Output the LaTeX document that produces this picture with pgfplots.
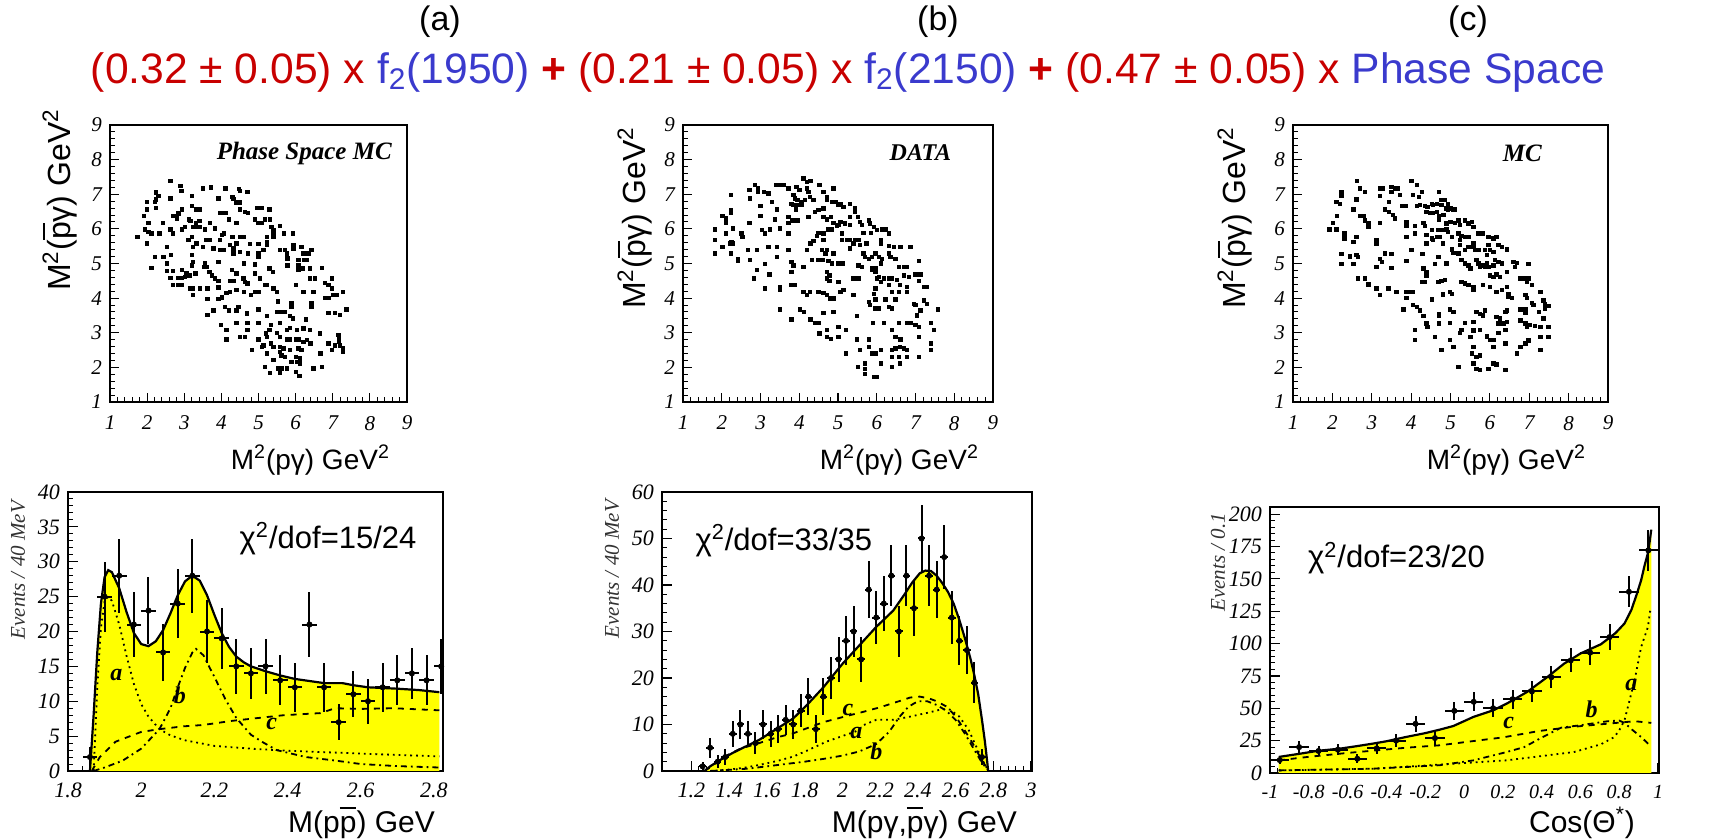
\documentclass[border=0pt]{standalone}
\usepackage{fontspec}
\setmainfont{Liberation Sans}
\newfontfamily\tnr{Liberation Serif}
\usepackage{pgfplots}
\pgfplotsset{compat=1.18}
\usepackage{pgfplotstable}
\definecolor{fred}{RGB}{200,0,0}
\definecolor{fblue}{RGB}{58,58,205}
\definecolor{fyel}{RGB}{255,255,0}
\newcommand\pbar{\leavevmode\rlap{\raisebox{0.80em}{\rule{0.53em}{0.07em}}}p}

\tikzset{
  lab/.style={font=\tnr\bfseries\itshape\fontsize{12}{14}\selectfont},
  chi/.style={anchor=west, font=\fontsize{15.5}{18}\selectfont},
}
\pgfplotsset{
  rootstyle/.style={
    scale only axis,
    axis line style={line width=0.9pt},
    tick align=inside,
    xtick pos=left, ytick pos=left,
    major tick length=5pt, minor tick length=2.5pt,
    every tick/.style={black, line width=0.6pt},
    every minor tick/.style={black, line width=0.5pt},
    ticklabel style={font=\tnr\itshape\fontsize{11}{12}\selectfont},
    xticklabel style={yshift=-2.5pt},
    yticklabel style={xshift=-0.5pt},
    /pgf/number format/assume math mode=true,
    minor tick num=4,
  },
  scat/.style={rootstyle, xmin=1, xmax=9, ymin=1, ymax=9,
    xtick={1,2,3,4,5,6,7,8,9}, ytick={1,2,3,4,5,6,7,8,9},
    major tick length=4.5pt, minor tick length=2.3pt,
    ticklabel style={font=\tnr\itshape\fontsize{10.5}{12}\selectfont},
    xticklabel style={yshift=-1pt},
    height=138.5pt},
  pts/.style={only marks, mark=square*, mark size=0.85pt, black},
  dat/.style={only marks, mark=*, mark size=1.3pt, black,
    error bars/.cd, x dir=both, x explicit, y dir=both, y explicit,
    error bar style={line width=1pt}, error mark=none},
  fitline/.style={black, line width=1.1pt},
  comp/.style={black, line width=0.9pt},
}

\begin{document}
\begin{tikzpicture}
\useasboundingbox (0,0) rectangle (862pt,420pt);

% ---------------- top (a) ----------------
\begin{axis}[scat, at={(55pt,219pt)}, anchor=south west, width=148.5pt]
\addplot[pts] table {
2.63 7.38
2.90 7.25
2.92 7.10
2.23 7.05
1.99 6.78
2.21 6.78
2.24 6.85
2.63 6.88
3.21 6.96
3.51 7.17
3.71 7.20
4.11 7.17
4.48 7.15
4.50 7.10
4.70 7.07
4.30 6.93
4.32 6.86
3.92 6.88
4.41 6.76
4.50 6.76
2.30 6.95
1.92 6.37
1.99 6.56
2.24 6.60
2.70 6.37
2.80 6.37
2.93 6.56
3.21 6.66
3.33 6.56
3.42 6.56
3.96 6.47
4.05 6.47
4.12 6.47
4.50 6.56
4.63 6.49
4.72 6.47
4.95 6.61
5.08 6.61
5.29 6.56
2.84 6.45
2.80 6.30
2.42 6.18
2.03 6.18
3.12 6.27
3.17 6.23
3.32 6.18
3.41 6.23
3.69 6.18
4.20 6.27
4.41 6.18
4.90 6.27
5.17 6.27
5.30 6.27
5.00 6.18
5.09 6.18
5.58 6.08
5.35 6.06
5.40 5.97
1.94 5.98
2.03 5.92
2.12 5.87
2.33 5.87
2.70 5.87
2.63 5.98
2.93 5.98
3.02 6.06
3.23 6.06
3.33 6.06
3.42 6.06
3.56 5.98
3.83 6.01
4.01 5.82
4.07 5.87
4.30 5.77
4.50 5.77
4.61 5.77
3.20 5.77
3.11 5.68
5.22 5.77
5.22 5.63
5.22 5.53
5.40 5.87
5.40 5.77
5.69 5.87
5.92 5.87
1.99 5.58
3.33 5.58
3.60 5.68
3.69 5.68
3.96 5.68
4.23 5.53
4.41 5.58
4.77 5.56
5.00 5.56
2.53 5.48
3.23 5.48
3.51 5.48
3.78 5.44
3.96 5.39
4.05 5.39
4.32 5.44
4.32 5.29
4.50 5.34
4.72 5.29
5.00 5.29
5.00 5.19
5.13 5.39
5.58 5.39
5.71 5.39
5.94 5.53
5.94 5.44
6.16 5.48
6.21 5.29
6.34 5.29
6.43 5.39
5.76 5.29
5.78 5.15
5.78 4.95
2.21 5.19
2.44 5.19
2.64 5.24
3.20 5.24
3.23 5.05
3.20 4.95
3.56 5.00
3.60 4.90
3.92 5.05
4.61 5.00
4.90 4.97
5.29 4.86
6.07 5.10
6.23 5.10
6.30 5.10
6.07 4.95
6.07 4.81
6.19 4.86
6.39 4.86
6.70 4.88
2.12 4.88
2.53 4.78
2.70 4.78
2.93 4.81
3.06 4.71
2.63 4.59
2.84 4.59
2.93 4.59
3.02 4.62
3.14 4.66
3.30 4.71
3.53 4.90
3.68 4.76
3.74 4.66
3.83 4.57
3.92 4.49
4.28 4.81
4.41 4.71
4.59 4.57
4.63 4.47
4.70 4.42
4.90 4.71
5.04 4.57
5.38 4.76
6.39 4.57
6.52 4.57
6.79 4.44
6.88 4.38
6.97 4.57
6.00 4.38
2.70 4.39
2.84 4.39
2.93 4.39
3.15 4.28
3.24 4.28
3.42 4.28
3.62 4.28
3.92 4.31
4.23 4.49
4.32 4.49
5.17 4.38
5.22 4.38
5.40 4.28
5.49 4.18
6.21 4.18
6.48 4.18
6.97 4.28
3.23 4.09
3.62 3.97
3.92 3.97
4.01 4.02
4.14 4.15
4.23 4.18
4.41 4.23
4.61 4.18
4.79 4.09
4.90 4.18
5.00 4.18
5.53 3.90
5.89 3.85
5.89 3.75
6.43 3.85
6.43 3.75
6.79 4.00
6.88 4.00
7.01 4.09
7.10 4.09
7.28 4.18
7.37 3.68
6.88 3.58
7.06 3.58
7.19 3.51
3.62 3.51
3.78 3.65
4.10 3.75
4.21 3.65
4.41 3.65
4.46 3.75
4.68 3.56
5.00 3.68
5.22 3.48
5.49 3.61
5.62 3.61
5.71 3.61
5.85 3.48
5.92 3.41
6.28 3.38
3.98 3.22
4.14 3.09
4.41 3.29
4.70 3.29
4.70 3.09
5.00 3.29
5.33 3.22
5.29 3.09
5.58 3.29
5.76 3.09
5.85 3.14
6.03 3.08
6.21 3.13
6.39 3.09
6.66 2.98
7.15 2.93
7.17 2.83
7.17 2.74
4.13 2.81
4.50 2.88
4.63 2.88
5.20 2.98
5.22 2.88
5.00 2.81
5.49 3.00
5.58 2.88
5.76 2.81
5.85 2.81
6.00 2.81
6.08 2.81
6.21 2.74
6.30 2.79
6.40 2.69
6.88 2.69
6.97 2.50
7.06 2.64
7.19 2.64
7.28 2.55
7.28 2.45
4.82 2.50
5.09 2.59
5.13 2.64
5.33 2.69
5.40 2.59
5.58 2.59
5.58 2.45
5.62 2.35
5.67 2.55
5.85 2.50
6.07 2.55
6.16 2.50
5.22 2.40
5.40 2.21
5.71 2.30
6.00 2.30
6.12 2.26
5.89 2.16
6.03 2.16
6.12 2.11
6.67 2.40
5.17 2.02
5.53 1.97
5.62 1.97
5.76 1.97
5.31 1.84
5.58 1.84
6.00 1.87
6.10 1.75
6.48 1.97
6.70 2.02
1.74 5.77
2.53 5.00
};
\node[anchor=east, font=\tnr\bfseries\itshape\fontsize{12.5}{14}\selectfont] at (axis cs:8.78,8.19) {Phase Space MC};
\end{axis}

% ---------------- top (b) ----------------
\begin{axis}[scat, at={(341.5pt,219pt)}, anchor=south west, width=155pt]
\addplot[pts] table {
4.11 7.46
4.19 7.36
4.29 7.39
4.52 7.27
4.88 7.17
3.40 7.27
3.50 7.27
3.60 7.27
3.72 7.17
2.86 7.27
2.94 7.17
2.94 7.07
2.71 7.12
2.73 6.88
3.09 7.07
3.20 7.02
3.93 7.22
4.00 7.12
4.19 7.17
4.24 7.07
3.85 6.98
3.89 6.88
3.95 6.83
4.06 6.78
4.15 6.83
4.28 6.93
4.36 6.83
4.62 7.07
4.71 6.93
4.71 6.83
4.84 6.78
4.93 6.78
3.80 6.73
3.85 6.69
3.98 6.69
4.06 6.69
5.06 6.73
5.30 6.73
2.23 6.98
3.29 6.78
4.41 6.49
4.49 6.54
4.62 6.59
4.62 6.35
4.24 6.35
3.92 6.56
3.72 6.35
3.42 6.56
3.00 6.66
5.44 6.59
5.44 6.49
5.14 6.64
5.01 6.69
2.02 6.37
2.10 6.30
2.10 6.18
2.23 6.54
2.23 6.47
3.00 6.37
2.71 6.18
3.37 6.27
3.72 6.18
3.82 6.25
3.95 6.25
4.71 6.27
4.81 6.35
4.88 6.18
5.01 6.11
5.18 6.16
5.06 6.20
4.97 6.08
5.30 6.35
5.31 6.11
5.51 6.35
5.56 6.20
5.62 6.11
5.79 6.25
5.83 6.16
5.92 6.06
6.00 5.97
6.13 5.98
6.22 5.98
6.31 5.87
5.66 5.89
5.85 5.89
1.82 5.98
2.29 6.01
2.51 5.87
2.53 5.77
2.10 5.87
3.03 5.97
3.11 5.87
3.24 5.98
3.50 6.01
3.72 5.87
4.49 5.89
4.62 5.87
4.75 5.98
4.84 5.98
5.10 5.87
1.82 5.68
2.02 5.48
2.21 5.58
2.25 5.63
2.29 5.58
4.29 5.58
4.36 5.66
4.45 5.79
4.62 5.68
5.10 5.68
5.23 5.68
5.31 5.68
5.44 5.68
5.53 5.68
5.40 5.58
5.57 5.53
5.73 5.58
6.10 5.68
6.10 5.58
6.31 5.50
6.44 5.48
6.61 5.48
6.87 5.48
3.20 5.48
3.42 5.48
2.68 5.39
2.90 5.39
3.72 5.39
4.19 5.39
4.58 5.39
4.67 5.29
4.71 5.39
4.88 5.29
5.31 5.44
5.66 5.29
5.70 5.19
5.79 5.14
5.88 5.19
5.96 5.29
6.05 5.19
6.10 5.00
6.13 5.14
6.31 5.29
6.35 5.19
6.48 5.14
1.82 5.29
2.23 5.29
2.42 5.14
2.42 5.07
2.73 5.10
3.42 5.19
3.80 5.05
3.85 4.95
4.32 5.10
4.49 5.10
4.60 5.10
4.75 5.08
4.84 5.00
5.01 5.00
5.12 5.00
5.53 4.95
5.62 4.90
5.88 4.88
5.96 4.86
5.88 4.81
6.57 4.90
6.70 4.90
6.78 4.90
7.08 5.07
3.11 4.98
2.90 4.81
3.23 4.69
2.83 4.57
3.80 4.76
4.11 4.90
4.71 4.76
4.78 4.66
4.71 4.57
4.78 4.50
5.01 4.47
5.40 4.57
5.53 4.57
5.96 4.76
6.00 4.57
6.05 4.61
6.18 4.57
6.31 4.57
6.39 4.57
6.11 4.47
6.52 4.52
6.59 4.39
7.00 4.69
7.13 4.69
7.08 4.49
6.70 4.66
6.83 4.61
7.21 4.33
7.30 4.33
6.78 4.33
3.11 4.28
3.50 4.33
3.50 4.25
3.80 4.39
3.89 4.39
4.11 4.18
4.19 4.10
4.28 4.18
4.49 4.18
4.62 4.15
4.71 4.09
4.79 3.99
4.88 3.99
5.06 4.18
5.14 4.23
5.40 4.09
5.96 4.28
5.92 4.13
6.31 4.39
6.39 4.18
6.57 4.18
6.78 4.18
5.79 3.89
5.83 3.80
5.96 3.96
6.22 3.96
6.48 3.96
5.96 3.70
6.05 3.70
6.31 3.75
6.39 3.70
6.96 3.84
7.00 3.80
7.21 3.94
7.30 3.84
7.13 3.65
7.04 3.50
7.58 3.68
3.50 3.68
4.02 3.68
4.12 3.60
4.62 3.57
4.88 3.60
5.49 3.48
3.80 3.38
4.29 3.38
4.41 3.29
4.49 3.29
5.90 3.29
6.18 3.29
6.57 3.29
6.78 3.29
6.87 3.29
7.00 3.22
7.08 3.17
7.39 3.29
7.47 3.09
4.71 3.09
4.52 2.98
5.01 3.17
5.21 3.09
4.71 2.88
4.81 2.83
5.01 2.88
6.39 3.09
6.48 2.88
6.61 2.81
7.08 2.88
5.49 2.81
5.79 2.81
5.79 2.59
5.88 2.40
5.96 2.40
6.10 2.50
5.57 2.50
5.21 2.40
6.39 2.50
6.48 2.55
6.59 2.59
6.70 2.55
6.78 2.50
6.39 2.30
6.57 2.30
6.78 2.30
7.08 2.30
7.39 2.69
7.39 2.50
5.51 2.01
5.70 2.11
5.70 1.96
5.70 1.82
5.92 1.72
6.00 1.72
6.11 2.11
6.39 2.01
6.59 2.11
};
\node[anchor=east, font=\tnr\bfseries\itshape\fontsize{12}{14}\selectfont] at (axis cs:8.1,8.19) {DATA};
\end{axis}

% ---------------- top (c) ----------------
\begin{axis}[scat, at={(646.5pt,219pt)}, anchor=south west, width=157.5pt]
\addplot[pts] table {
2.63 7.38
2.70 7.17
2.83 7.07
2.23 7.07
2.23 6.95
2.10 6.78
2.19 6.73
2.61 6.85
3.20 7.17
3.29 7.17
3.20 6.95
3.50 7.22
3.59 7.17
3.67 7.17
3.50 7.07
3.71 6.98
4.01 7.38
4.14 7.27
4.27 7.07
4.05 6.98
4.20 6.93
4.71 7.07
3.44 6.78
3.78 6.66
3.86 6.66
2.53 6.56
3.33 6.56
3.44 6.49
4.14 6.66
4.22 6.69
4.35 6.66
4.41 6.64
4.52 6.73
4.56 6.69
4.65 6.73
4.77 6.83
4.86 6.83
4.94 6.73
4.77 6.69
4.88 6.59
5.00 6.59
5.11 6.56
4.39 6.49
4.47 6.47
4.56 6.47
4.65 6.49
4.71 6.37
4.71 6.27
4.82 6.40
4.94 6.56
5.07 6.54
2.70 6.37
2.80 6.37
2.83 6.25
2.91 6.16
2.91 6.06
2.12 6.37
2.02 6.18
2.10 5.98
1.92 5.98
2.31 5.87
2.31 5.73
3.20 6.18
3.54 6.40
3.59 6.30
3.88 6.20
3.88 6.08
4.10 6.08
4.31 6.18
4.35 6.08
4.52 5.97
4.69 5.97
4.80 5.97
4.90 5.98
4.94 5.92
4.90 6.16
5.00 6.20
5.11 6.18
5.20 6.25
5.24 6.11
5.37 6.25
5.45 6.16
5.54 6.20
5.58 6.06
5.20 5.87
5.28 5.79
5.37 5.77
5.45 5.77
5.71 5.87
5.83 5.87
5.96 5.77
6.09 5.73
6.17 5.77
3.88 5.77
4.10 5.87
4.39 5.82
4.52 5.73
4.65 5.77
4.73 5.77
5.03 5.77
3.12 5.68
3.12 5.58
4.39 5.58
4.56 5.68
4.80 5.58
5.24 5.68
5.24 5.53
5.58 5.58
5.58 5.48
5.96 5.53
6.00 5.39
6.09 5.34
6.22 5.53
6.30 5.48
6.43 5.41
5.88 5.39
5.92 5.24
2.61 5.77
2.53 5.63
4.01 5.39
5.03 5.41
5.07 5.31
5.20 5.29
5.37 5.39
5.45 5.48
5.62 5.39
5.71 5.39
4.29 5.27
2.23 5.27
2.23 4.98
2.44 5.21
2.53 4.98
2.61 5.24
2.65 5.19
3.33 5.29
3.50 5.27
3.20 5.14
3.25 5.05
3.12 4.90
3.50 4.88
3.88 5.07
4.31 4.86
4.39 4.76
4.39 4.66
4.60 4.98
4.69 5.19
4.90 5.00
5.28 5.10
5.37 5.00
5.45 4.95
5.50 4.86
5.66 5.10
5.71 5.00
5.75 4.90
5.83 4.95
5.88 4.90
5.92 5.00
5.96 4.90
6.09 4.95
6.13 5.10
6.22 5.05
6.30 5.00
6.00 4.66
6.09 4.61
6.17 4.68
6.26 4.61
6.43 4.76
6.60 5.05
6.68 5.02
6.64 4.90
6.98 4.98
6.77 4.57
6.90 4.57
6.98 4.57
6.94 4.47
7.06 4.38
7.28 4.18
5.28 4.47
5.37 4.42
5.45 4.38
5.58 4.33
5.58 4.23
5.83 4.38
6.00 4.33
6.17 4.18
6.30 4.23
6.43 4.33
6.47 4.13
6.47 4.03
6.56 4.00
6.90 4.09
6.94 4.00
7.06 3.86
7.11 3.80
7.36 3.94
7.40 3.84
7.40 3.70
7.49 3.77
6.77 3.67
6.90 3.67
6.90 3.57
7.24 3.60
7.36 3.41
2.65 4.57
2.82 4.57
2.91 4.40
3.12 4.28
3.20 4.09
3.42 4.28
3.63 4.18
3.88 4.18
4.01 4.18
4.05 4.18
4.27 4.47
4.35 4.47
4.69 4.47
4.77 4.50
4.86 4.52
4.99 4.18
5.03 4.13
4.80 4.11
4.52 3.96
3.88 4.00
3.80 3.68
4.05 3.80
4.14 3.75
4.22 3.65
4.31 3.48
4.39 3.27
4.41 3.17
4.71 3.55
4.71 3.48
4.71 3.27
4.99 3.68
5.07 3.60
4.99 3.29
5.37 3.29
5.28 3.09
5.24 3.00
5.66 3.60
5.75 3.55
5.83 3.50
5.88 3.65
6.17 3.46
6.26 3.41
6.39 3.60
6.43 3.65
6.22 3.27
6.34 3.27
6.43 3.31
6.77 3.36
6.90 3.27
6.94 3.17
7.02 3.22
7.15 3.19
7.28 3.17
7.49 3.17
5.58 3.31
5.58 3.07
5.75 3.09
5.50 2.88
5.92 2.90
6.00 2.80
6.22 3.00
6.39 3.09
6.09 2.80
6.09 2.59
6.39 2.69
4.10 3.09
4.10 2.80
4.60 2.88
4.99 2.80
5.07 2.59
4.77 2.50
5.58 2.59
6.68 2.40
6.77 2.59
6.90 2.69
6.98 2.78
7.28 2.88
7.49 2.88
7.28 2.51
5.54 2.40
5.66 2.30
5.75 2.35
5.58 2.11
5.66 1.96
5.75 1.93
5.20 2.01
5.96 1.96
6.09 2.11
6.17 2.09
6.39 1.93
};
\node[anchor=east, font=\tnr\bfseries\itshape\fontsize{12.5}{14}\selectfont] at (axis cs:7.5,8.19) {MC};
\end{axis}

% ---------------- bottom (a) ----------------
\begin{axis}[rootstyle, at={(34pt,34.5pt)}, anchor=south west, width=187.5pt, height=139.5pt,
  xmin=1.8, xmax=2.825, ymin=0, ymax=40,
  xtick={1.8,2,2.2,2.4,2.6,2.8}, ytick={0,5,10,15,20,25,30,35,40}]
\addplot[fill=fyel, draw=none] coordinates {
(1.86,0) (1.87,8) (1.88,17) (1.89,24) (1.90,27.8) (1.91,28.8) (1.92,28.5) (1.94,26.2) (1.96,22.8) (1.98,19.8) (2.00,18.2) (2.02,17.9) (2.04,18.6) (2.06,20.2) (2.08,22.6) (2.10,25.2) (2.12,27.2) (2.14,28.0) (2.16,27.3) (2.18,25.2) (2.20,22.4) (2.22,19.8) (2.24,17.8) (2.26,16.4) (2.28,15.6) (2.30,15.0) (2.34,14.3) (2.38,13.7) (2.42,13.2) (2.46,12.9) (2.50,12.6) (2.55,12.6) (2.58,12.3) (2.62,12.0) (2.66,11.9) (2.70,11.8) (2.76,11.6) (2.815,11.3)
} \closedcycle;
\addplot[comp, dotted] coordinates {
(1.87,0) (1.88,12) (1.89,20.5) (1.90,24.3) (1.91,25) (1.92,24.4) (1.94,21) (1.96,16.5) (1.98,12.5) (2.00,9.6) (2.02,7.8) (2.05,6) (2.08,5.1) (2.12,4.4) (2.16,4.0) (2.2,3.6) (2.3,3.2) (2.4,2.9) (2.5,2.7) (2.6,2.5) (2.7,2.3) (2.815,2.1)
};
\addplot[comp, dashdotted] coordinates {
(1.87,0) (1.9,0.5) (1.95,1.5) (2.0,3.2) (2.05,6) (2.08,9) (2.1,12) (2.12,14.8) (2.14,17) (2.15,17.5) (2.17,16.6) (2.2,13.5) (2.23,10.3) (2.26,7.6) (2.3,5.2) (2.33,4.2) (2.37,3) (2.45,2) (2.53,1.5) (2.6,1.0) (2.7,0.7) (2.815,0.5)
};
\addplot[comp, dashed] coordinates {
(1.865,0) (1.887,2) (1.93,4.2) (2.0,5.6) (2.05,6.0) (2.115,6.4) (2.17,6.6) (2.25,7.2) (2.32,7.6) (2.39,8.0) (2.49,8.3) (2.53,9.0) (2.6,8.9) (2.69,9.0) (2.815,8.7)
};
\addplot[fitline] coordinates {
(1.86,0) (1.87,8) (1.88,17) (1.89,24) (1.90,27.8) (1.91,28.8) (1.92,28.5) (1.94,26.2) (1.96,22.8) (1.98,19.8) (2.00,18.2) (2.02,17.9) (2.04,18.6) (2.06,20.2) (2.08,22.6) (2.10,25.2) (2.12,27.2) (2.14,28.0) (2.16,27.3) (2.18,25.2) (2.20,22.4) (2.22,19.8) (2.24,17.8) (2.26,16.4) (2.28,15.6) (2.30,15.0) (2.34,14.3) (2.38,13.7) (2.42,13.2) (2.46,12.9) (2.50,12.6) (2.55,12.6) (2.58,12.3) (2.62,12.0) (2.66,11.9) (2.70,11.8) (2.76,11.6) (2.815,11.3)
};
\addplot[dat] table[x=x, y=y, x error=ex, y error=ey] {
x y ex ey
1.86 2 0.02 1.4
1.90 25 0.02 5.0
1.94 28 0.02 5.3
1.98 21 0.02 4.6
2.02 23 0.02 4.8
2.06 17 0.02 4.1
2.10 24 0.02 4.9
2.14 28 0.02 5.3
2.18 20 0.02 4.5
2.22 19 0.02 4.4
2.26 15 0.02 3.9
2.30 14 0.02 3.7
2.34 15 0.02 3.9
2.38 13 0.02 3.6
2.42 12 0.02 3.5
2.46 21 0.02 4.6
2.50 12 0.02 3.5
2.54 7 0.02 2.6
2.58 11 0.02 3.3
2.62 10 0.02 3.2
2.66 12 0.02 3.5
2.70 13 0.02 3.6
2.74 14 0.02 3.7
2.78 13 0.02 3.6
2.82 15 0.02 3.9
};
\node[lab] at (axis cs:1.932,13.8) {a};
\node[lab] at (axis cs:2.106,10.8) {b};
\node[lab] at (axis cs:2.357,6.75) {c};
\node[chi] at (axis cs:2.25,33.3) {χ\textsuperscript{2}/dof=15/24};
\end{axis}

% ---------------- bottom (b) ----------------
\begin{axis}[rootstyle, at={(331pt,34.5pt)}, anchor=south west, width=185pt, height=139.5pt,
  xmin=1.045, xmax=3.005, ymin=0, ymax=60,
  xtick={1.2,1.4,1.6,1.8,2,2.2,2.4,2.6,2.8,3}, ytick={0,10,20,30,40,50,60}]
\addplot[fill=fyel, draw=none] coordinates {
(1.27,0) (1.30,1) (1.35,2.3) (1.42,3.9) (1.50,5.5) (1.56,6.7) (1.65,9) (1.74,11.3) (1.82,14.5) (1.90,18) (2.00,23) (2.09,27) (2.18,31) (2.27,34.5) (2.33,38) (2.37,40.5) (2.41,42.5) (2.44,43.1) (2.47,43) (2.50,42) (2.53,40.4) (2.56,38.5) (2.59,36) (2.62,32.5) (2.65,28.5) (2.68,24) (2.70,20.5) (2.72,16.5) (2.74,11) (2.755,6.5) (2.765,3) (2.773,0)
} \closedcycle;
\addplot[comp, dashed] coordinates {
(1.27,0) (1.30,0.8) (1.38,3.2) (1.46,4.8) (1.56,6) (1.65,7.2) (1.74,8.1) (1.82,9.3) (1.9,10.5) (2.04,12) (2.1,12.6) (2.2,13.7) (2.3,15) (2.36,15.8) (2.41,16) (2.46,15.6) (2.50,15) (2.55,13.9) (2.6,11.8) (2.66,8) (2.70,5.3) (2.73,3) (2.76,1) (2.775,0)
};
\addplot[comp, dotted] coordinates {
(1.30,0) (1.40,0.3) (1.48,0.7) (1.56,1.3) (1.65,2.1) (1.74,3.1) (1.82,4.5) (1.915,6.3) (2.0,7.5) (2.07,8.5) (2.12,10) (2.18,11) (2.27,11) (2.36,11.7) (2.45,12.5) (2.53,13.3) (2.57,13.2) (2.62,11.7) (2.67,8.8) (2.71,5.2) (2.74,2.5) (2.775,0)
};
\addplot[comp, dashdotted] coordinates {
(1.30,0) (1.5,0.5) (1.6,1) (1.7,1.5) (1.8,2) (1.9,2.6) (2.0,3.3) (2.09,4.2) (2.18,5.8) (2.25,8.5) (2.3,11.5) (2.35,13.8) (2.4,15) (2.45,15) (2.5,14.2) (2.55,13) (2.6,11) (2.65,8) (2.7,4.5) (2.74,1.8) (2.775,0)
};
\addplot[fitline] coordinates {
(1.27,0) (1.30,1) (1.35,2.3) (1.42,3.9) (1.50,5.5) (1.56,6.7) (1.65,9) (1.74,11.3) (1.82,14.5) (1.90,18) (2.00,23) (2.09,27) (2.18,31) (2.27,34.5) (2.33,38) (2.37,40.5) (2.41,42.5) (2.44,43.1) (2.47,43) (2.50,42) (2.53,40.4) (2.56,38.5) (2.59,36) (2.62,32.5) (2.65,28.5) (2.68,24) (2.70,20.5) (2.72,16.5) (2.74,11) (2.755,6.5) (2.765,3) (2.773,0)
};
\addplot[dat] table[x=x, y=y, x error=ex, y error=ey] {
x y ex ey
1.26 1 0.02 1.0
1.30 5 0.02 2.2
1.34 2 0.02 1.4
1.38 3 0.02 1.7
1.42 8 0.02 2.8
1.46 10 0.02 3.2
1.50 8 0.02 2.8
1.54 6 0.02 2.4
1.58 10 0.02 3.2
1.62 8 0.02 2.8
1.66 9 0.02 3.0
1.70 11 0.02 3.3
1.74 10 0.02 3.2
1.78 13 0.02 3.6
1.82 16 0.02 4.0
1.86 9 0.02 3.0
1.90 16 0.02 4.0
1.94 20 0.02 4.5
1.98 24 0.02 4.9
2.02 28 0.02 5.3
2.06 30 0.02 5.5
2.10 24 0.02 4.9
2.14 39 0.02 6.2
2.18 33 0.02 5.7
2.22 36 0.02 6.0
2.26 42 0.02 6.5
2.30 30 0.02 5.5
2.34 42 0.02 6.5
2.38 35 0.02 5.9
2.42 50 0.02 7.1
2.46 42 0.02 6.5
2.50 39 0.02 6.2
2.54 46 0.02 6.8
2.58 33 0.02 5.7
2.62 28 0.02 5.3
2.66 26 0.02 5.1
2.70 19 0.02 4.4
2.74 3 0.02 1.7
};
\node[lab] at (axis cs:2.03,13.1) {c};
\node[lab] at (axis cs:2.074,8.1) {a};
\node[lab] at (axis cs:2.18,4.2) {b};
\node[chi] at (axis cs:1.185,49.5) {χ\textsuperscript{2}/dof=33/35};
\end{axis}

% ---------------- bottom (c) ----------------
\begin{axis}[rootstyle, at={(635pt,33.5pt)}, anchor=south west, width=194.5pt, height=133pt,
  xmin=-1, xmax=1.005, ymin=0, ymax=205.5,
  xticklabel style={font=\tnr\itshape\fontsize{10}{12}\selectfont},
  xtick={-1,-0.8,-0.6,-0.4,-0.2,0,0.2,0.4,0.6,0.8,1}, ytick={0,25,50,75,100,125,150,175,200}]
\addplot[fill=fyel, draw=none] coordinates {
(-0.955,12.4) (-0.85,14.8) (-0.75,17.2) (-0.64,18.8) (-0.55,20.8) (-0.47,22.7) (-0.4,24.5) (-0.3,27.8) (-0.2,30.8) (-0.125,33.5) (-0.055,36.3) (0.048,43.3) (0.152,48.5) (0.22,53.6) (0.325,62.6) (0.43,74.2) (0.516,84.5) (0.6,92.3) (0.706,99.5) (0.78,108) (0.827,115.5) (0.862,125.8) (0.89,138) (0.913,149) (0.93,160) (0.948,170) (0.958,180) (0.965,188)
} \closedcycle;
\addplot[comp, dashed] coordinates {
(-0.955,9.8) (-0.8,12.5) (-0.6,15.5) (-0.45,17.5) (-0.3,19.5) (-0.125,21.4) (0.05,24.7) (0.2,27.5) (0.39,32.5) (0.55,35.5) (0.74,38.1) (0.88,40) (0.965,38.7)
};
\addplot[comp, dashdotted] coordinates {
(-0.955,2) (-0.47,3.3) (-0.125,6) (0.05,9.8) (0.118,12.4) (0.22,16.2) (0.31,20) (0.39,26.5) (0.5,35) (0.6,36.9) (0.74,40) (0.8,40.5) (0.827,38.7) (0.87,33) (0.913,27.8) (0.957,21.4)
};
\addplot[comp, dotted] coordinates {
(-0.955,2) (-0.47,3.3) (-0.05,7.2) (0.22,9.8) (0.39,12.9) (0.567,16.2) (0.706,22.2) (0.775,27.8) (0.8,33) (0.827,40.7) (0.853,56) (0.879,71.6) (0.913,97.4) (0.948,112.9) (0.962,128)
};
\addplot[fitline] coordinates {
(-0.955,12.4) (-0.85,14.8) (-0.75,17.2) (-0.64,18.8) (-0.55,20.8) (-0.47,22.7) (-0.4,24.5) (-0.3,27.8) (-0.2,30.8) (-0.125,33.5) (-0.055,36.3) (0.048,43.3) (0.152,48.5) (0.22,53.6) (0.325,62.6) (0.43,74.2) (0.516,84.5) (0.6,92.3) (0.706,99.5) (0.78,108) (0.827,115.5) (0.862,125.8) (0.89,138) (0.913,149) (0.93,160) (0.948,170) (0.958,180) (0.965,188)
};
\addplot[dat] table[x=x, y=y, x error=ex, y error=ey] {
x y ex ey
-0.95 10 0.05 3.2
-0.85 20 0.05 4.5
-0.75 17 0.05 4.1
-0.65 18 0.05 4.2
-0.55 11 0.05 3.3
-0.45 19 0.05 4.4
-0.35 25 0.05 5.0
-0.25 38 0.05 6.2
-0.15 27 0.05 5.2
-0.05 48 0.05 6.9
0.05 55 0.05 7.4
0.15 50 0.05 7.1
0.25 57 0.05 7.5
0.35 63 0.05 7.9
0.45 74 0.05 8.6
0.55 87 0.05 9.3
0.65 93 0.05 9.6
0.75 105 0.05 10.2
0.85 140 0.05 12
0.95 172 0.05 16
};
\node[lab] at (axis cs:0.862,67.8) {a};
\node[lab] at (axis cs:0.657,49) {b};
\node[lab] at (axis cs:0.23,38.7) {c};
\node[chi] at (axis cs:-0.84,166) {χ\textsuperscript{2}/dof=23/20};
\end{axis}

% ---------------- free text ----------------
\node[font=\fontsize{17}{20}\selectfont] at (220pt,409pt) {(a)};
\node[font=\fontsize{17}{20}\selectfont] at (469pt,409pt) {(b)};
\node[font=\fontsize{17}{20}\selectfont] at (734pt,409pt) {(c)};
\node[font=\fontsize{21.3}{24}\selectfont] at (424pt,384pt) {\textcolor{fred}{(0.32 ± 0.05) x} \textcolor{fblue}{f\textsubscript{2}(1950)} \textcolor{fred}{\textbf{+} (0.21 ± 0.05) x} \textcolor{fblue}{f\textsubscript{2}(2150)} \textcolor{fred}{\textbf{+} (0.47 ± 0.05) x} \textcolor{fblue}{Phase Space}};

% top x labels
\node[anchor=east, font=\fontsize{14}{16}\selectfont] at (198.5pt,190pt) {M\textsuperscript{2}(pγ) GeV\textsuperscript{2}};
\node[anchor=east, font=\fontsize{14}{16}\selectfont] at (493pt,190pt) {M\textsuperscript{2}(pγ) GeV\textsuperscript{2}};
\node[anchor=east, font=\fontsize{14}{16}\selectfont] at (796.5pt,190pt) {M\textsuperscript{2}(pγ) GeV\textsuperscript{2}};
% top y labels
\node[rotate=90, anchor=east, font=\fontsize{16}{18}\selectfont] at (30pt,369pt) {M\textsuperscript{2}(\pbar γ) GeV\textsuperscript{2}};
\node[rotate=90, anchor=east, font=\fontsize{16}{18}\selectfont] at (317.5pt,360pt) {M\textsuperscript{2}(\pbar γ) GeV\textsuperscript{2}};
\node[rotate=90, anchor=east, font=\fontsize{16}{18}\selectfont] at (617.5pt,360pt) {M\textsuperscript{2}(\pbar γ) GeV\textsuperscript{2}};
% bottom x labels
\node[anchor=east, font=\fontsize{15}{17}\selectfont] at (221pt,8.5pt) {M(p\pbar) GeV};
\node[anchor=east, font=\fontsize{15}{17}\selectfont] at (512pt,8.5pt) {M(pγ,\pbar γ) GeV};
\node[anchor=east, font=\fontsize{15}{17}\selectfont] at (821pt,8.5pt) {Cos(Θ\textsuperscript{*})};
% bottom y labels
\node[rotate=90, anchor=east, text=black!80, font=\tnr\itshape\fontsize{10.5}{12}\selectfont] at (9pt,173pt) {Events / 40 MeV};
\node[rotate=90, anchor=east, text=black!80, font=\tnr\itshape\fontsize{10.5}{12}\selectfont] at (306pt,173.5pt) {Events / 40 MeV};
\node[rotate=90, anchor=east, text=black!80, font=\tnr\itshape\fontsize{10.5}{12}\selectfont] at (609pt,167pt) {Events / 0.1};
\end{tikzpicture}
\end{document}
